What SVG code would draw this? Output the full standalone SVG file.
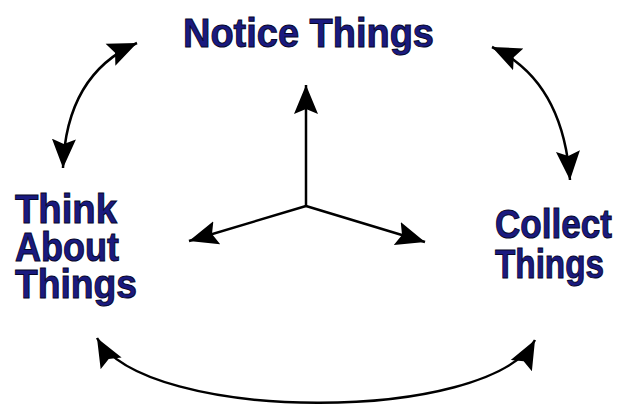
<svg xmlns="http://www.w3.org/2000/svg" width="617" height="405" viewBox="0 0 617 405">
<style>
.lbl{font-family:"Liberation Sans",Arial,sans-serif;font-weight:bold;font-size:41px;fill:#1a1a80;stroke:#05052a;stroke-width:1px}
.con{fill:none;stroke:#000;stroke-width:2.5}
</style>
<defs>
<marker id="ah" markerUnits="userSpaceOnUse" markerWidth="32" markerHeight="26" refX="29" refY="12" orient="auto-start-reverse" viewBox="0 0 32 24">
<path d="M0,0 L29,12 L0,24 L5,12 z" fill="#000"/>
</marker>
</defs>
<rect width="617" height="405" fill="#fff"/>
<g id="notice"><text class="lbl" x="183" y="47" textLength="251" lengthAdjust="spacingAndGlyphs">Notice Things</text></g>
<g id="think">
<text class="lbl" x="15" y="223" textLength="102" lengthAdjust="spacingAndGlyphs">Think</text>
<text class="lbl" x="15" y="261" textLength="104" lengthAdjust="spacingAndGlyphs">About</text>
<text class="lbl" x="15" y="298" textLength="122" lengthAdjust="spacingAndGlyphs">Things</text>
</g>
<g id="collect">
<text class="lbl" x="495" y="238" textLength="117" lengthAdjust="spacingAndGlyphs">Collect</text>
<text class="lbl" x="495" y="278" textLength="109" lengthAdjust="spacingAndGlyphs">Things</text>
</g>
<g id="connectors">
<path class="con" d="M306,206 L306,85" marker-end="url(#ah)"/>
<path class="con" d="M306,206 L189,241" marker-end="url(#ah)"/>
<path class="con" d="M306,206 L425,242" marker-end="url(#ah)"/>
<path class="con" d="M137,43 Q66,74.5 63,168" marker-start="url(#ah)" marker-end="url(#ah)"/>
<path class="con" d="M492,47 Q563,80.5 570,180" marker-start="url(#ah)" marker-end="url(#ah)"/>
<path class="con" d="M97,338 C145,424 490,424 535,340" marker-start="url(#ah)" marker-end="url(#ah)"/>
</g>
</svg>
